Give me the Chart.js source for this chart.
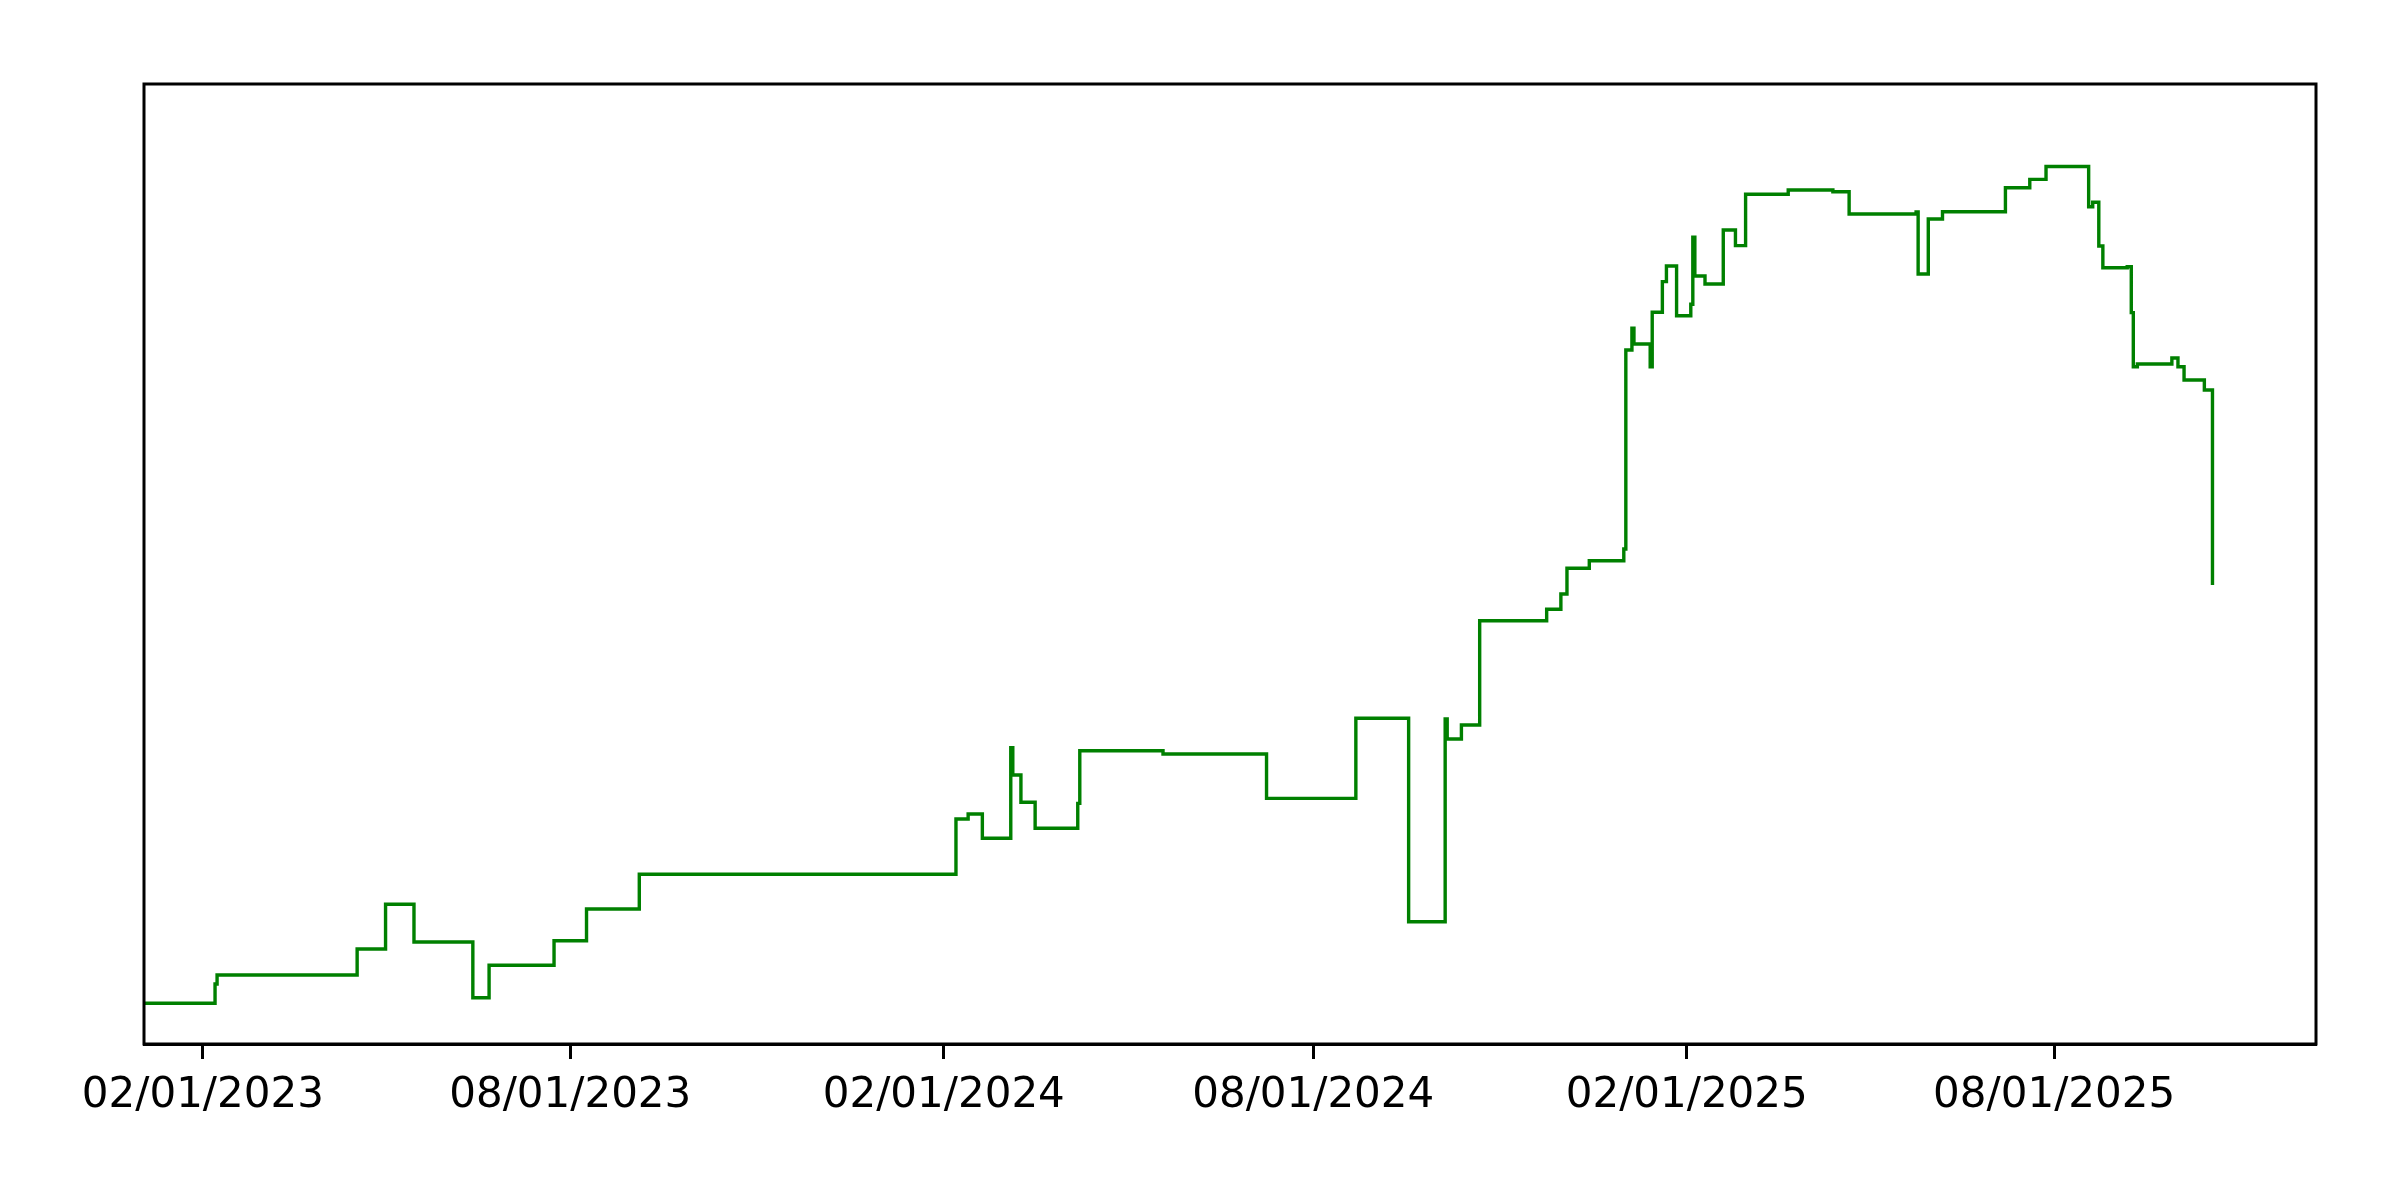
<!DOCTYPE html>
<html>
<head>
  <meta charset="utf-8">
  <title>Step chart</title>
  <script src="https://cdn.jsdelivr.net/npm/chart.js"></script>
  <style>
    html, body { margin: 0; padding: 0; background: #ffffff; }
    #wrap { width: 2400px; height: 1200px; position: relative; }
  </style>
</head>
<body>
  <div id="wrap"><canvas id="stepChart"></canvas></div>

  <script>
    // dates where the value changes (value holds until the next date)
    const dates = [
      "2023-01-03", "2023-02-07", "2023-02-08", "2023-04-18", "2023-05-02", "2023-05-16",
      "2023-06-14", "2023-06-22", "2023-07-24", "2023-08-09", "2023-09-04", "2024-02-07",
      "2024-02-13", "2024-02-20", "2024-03-05", "2024-03-06", "2024-03-10", "2024-03-17",
      "2024-04-07", "2024-04-08", "2024-05-19", "2024-07-09", "2024-08-22", "2024-09-17",
      "2024-10-05", "2024-10-06", "2024-10-13", "2024-10-22", "2024-11-24", "2024-12-01",
      "2024-12-04", "2024-12-15", "2025-01-01", "2025-01-02", "2025-01-05", "2025-01-06",
      "2025-01-14", "2025-01-15", "2025-01-20", "2025-01-22", "2025-01-27", "2025-02-03",
      "2025-02-04", "2025-02-05", "2025-02-10", "2025-02-19", "2025-02-25", "2025-03-02",
      "2025-03-23", "2025-04-14", "2025-04-22", "2025-05-25", "2025-05-26", "2025-05-31",
      "2025-06-07", "2025-07-08", "2025-07-20", "2025-07-28", "2025-08-18", "2025-08-20",
      "2025-08-23", "2025-08-25", "2025-09-06", "2025-09-08", "2025-09-09", "2025-09-11",
      "2025-09-28", "2025-10-01", "2025-10-04", "2025-10-14", "2025-10-18"
    ];

    // values (y axis has no labels, so units are relative)
    const values = [
      4.24, 6.25, 7.19, 9.90, 14.55, 10.63,
      4.82, 8.20, 10.76, 14.06, 17.68, 23.44,
      23.96, 21.43, 30.86, 28.02, 25.18, 22.47,
      25.07, 30.55, 30.21, 25.59, 33.93, 12.74,
      33.85, 31.77, 33.23, 44.09, 45.28, 46.88,
      49.55, 50.34, 51.56, 72.29, 74.55, 72.92,
      70.55, 76.22, 79.41, 81.04, 75.86, 77.05,
      84.03, 80.00, 79.17, 84.79, 83.16, 88.51,
      88.96, 88.78, 86.46, 86.67, 80.21, 85.94,
      86.70, 89.20, 90.07, 91.41, 87.22, 87.68,
      83.13, 80.86, 80.97, 76.18, 70.55, 70.83,
      71.46, 70.55, 69.17, 68.13, 47.81
    ];

    const tickLabels = ["02/01/2023", "08/01/2023", "02/01/2024", "08/01/2024", "02/01/2025", "08/01/2025"];
    const xRange = ["2023-01-03", "2025-12-08"];

    function labelToTime(s) {
      const [m, d, y] = s.split('/').map(Number);
      return Date.UTC(y, m - 1, d);
    }

    const points = dates.map((d, i) => ({ x: Date.parse(d), y: values[i] }));
    const tickValues = tickLabels.map(labelToTime);

    // draws the box round the plot area like matplotlib spines
    const frame = {
      id: 'frame',
      afterDraw(chart) {
        const a = chart.chartArea;
        const ctx = chart.ctx;
        ctx.save();
        ctx.strokeStyle = '#000000';
        ctx.lineWidth = 3;
        ctx.strokeRect(a.left, a.top, a.right - a.left, a.bottom - a.top);
        ctx.restore();
      }
    };

    new Chart(document.getElementById('stepChart'), {
      type: 'line',
      data: {
        datasets: [{
          data: points,
          stepped: 'before',
          borderColor: '#008000',
          borderWidth: 3.4,
          pointRadius: 0,
          fill: false
        }]
      },
      options: {
        responsive: true,
        maintainAspectRatio: false,
        devicePixelRatio: 1,
        animation: false,
        layout: { padding: { left: 144, right: 84, top: 84, bottom: 0 } },
        plugins: { legend: { display: false }, tooltip: { enabled: false } },
        scales: {
          x: {
            type: 'linear',
            min: Date.parse(xRange[0]),
            max: Date.parse(xRange[1]),
            afterBuildTicks: s => { s.ticks = tickValues.map(v => ({ value: v })); },
            afterFit: s => { s.height = 156; s.paddingLeft = 0; s.paddingRight = 0; },
            border: { display: true, color: '#000000', width: 3 },
            grid: {
              drawOnChartArea: false,
              drawTicks: true,
              tickLength: 15,
              tickWidth: 3,
              tickColor: '#000000'
            },
            ticks: {
              autoSkip: false,
              maxRotation: 0,
              padding: 12,
              color: '#000000',
              font: { family: 'DejaVu Sans', size: 42 },
              callback: (v, i) => tickLabels[i]
            }
          },
          y: {
            display: false,
            min: 0,
            max: 100
          }
        }
      },
      plugins: [frame]
    });
  </script>
</body>
</html>
